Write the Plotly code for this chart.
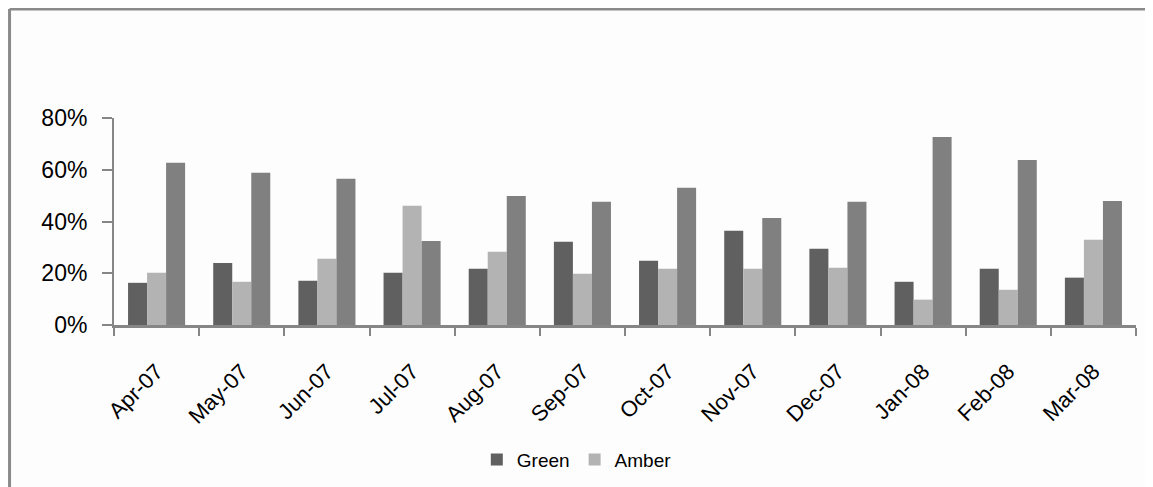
import plotly.graph_objects as go

months = ["Apr-07", "May-07", "Jun-07", "Jul-07", "Aug-07", "Sep-07",
          "Oct-07", "Nov-07", "Dec-07", "Jan-08", "Feb-08", "Mar-08"]
green = [0.163, 0.240, 0.171, 0.202, 0.217, 0.322, 0.248, 0.364, 0.295, 0.167, 0.217, 0.183]
amber = [0.202, 0.167, 0.256, 0.461, 0.283, 0.198, 0.217, 0.217, 0.221, 0.098, 0.136, 0.329]
red = [0.627, 0.588, 0.565, 0.325, 0.499, 0.476, 0.530, 0.414, 0.476, 0.727, 0.638, 0.479]

FONT = "Liberation Sans"
AXIS = "#868686"

fig = go.Figure()
fig.add_trace(go.Bar(x=months, y=green, name="Green", marker=dict(color="#606060", line=dict(width=0))))
fig.add_trace(go.Bar(x=months, y=amber, name="Amber", marker=dict(color="#b3b3b3", line=dict(width=0))))
fig.add_trace(go.Bar(x=months, y=red, name="Red", showlegend=False, marker=dict(color="#808080", line=dict(width=0))))

fig.update_layout(
    width=1145, height=479,
    margin=dict(l=106, r=17, t=110, b=162, autoexpand=False),
    paper_bgcolor="#fdfdfd", plot_bgcolor="#fdfdfd",
    barmode="group", bargap=0.33, bargroupgap=0,
    font=dict(family=FONT, color="#000000"),
    showlegend=True,
    legend=dict(orientation="h", x=0.355, xanchor="left", y=-0.65, yanchor="middle",
                font=dict(size=19, family=FONT), bgcolor="rgba(0,0,0,0)", itemwidth=30,
                itemsizing="constant", traceorder="normal"),
    xaxis=dict(showline=True, linecolor=AXIS, linewidth=3, ticks="outside", tickson="boundaries",
               ticklen=8, tickcolor=AXIS, tickwidth=2, tickangle=-45, ticklabelstandoff=22,
               tickfont=dict(size=22, family=FONT), showgrid=False, zeroline=False),
    yaxis=dict(range=[0, 0.8], tickvals=[0, 0.2, 0.4, 0.6, 0.8], tickformat=".0%",
               showline=True, linecolor=AXIS, linewidth=2, ticks="outside", ticklen=10,
               tickcolor=AXIS, tickwidth=2, ticklabelstandoff=10,
               tickfont=dict(size=23, family=FONT),
               showgrid=False, zeroline=False),
    shapes=[
        dict(type="line", xref="paper", yref="paper", x0=-0.1022, x1=-0.1022, y0=-1.0, y1=1.526,
             line=dict(color="#8a8a8a", width=3)),
        dict(type="line", xref="paper", yref="paper", x0=-0.1022, x1=1.1, y0=1.526, y1=1.526,
             line=dict(color="#8a8a8a", width=3)),
    ],
)

fig.write_html("out.html")
